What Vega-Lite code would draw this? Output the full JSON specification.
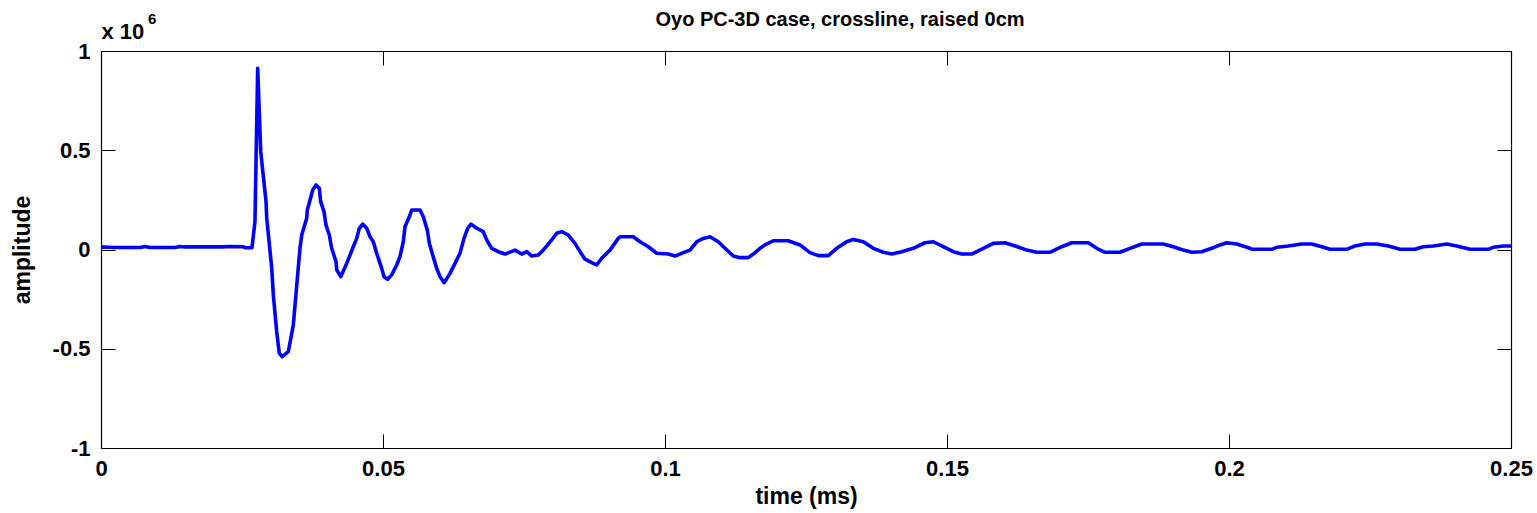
{
  "$schema": "https://vega.github.io/schema/vega-lite/v6.json",
  "width": 1410,
  "height": 397,
  "autosize": {"type": "none"},
  "padding": {"left": 101, "top": 51, "right": 26, "bottom": 65},
  "background": "white",
  "config": {
    "view": {"stroke": null},
    "font": "Liberation Sans",
    "axis": {
      "grid": false,
      "domainColor": "black",
      "domainWidth": 1.2,
      "tickColor": "black",
      "tickWidth": 1,
      "tickSize": -14,
      "labelColor": "black",
      "labelFont": "Liberation Sans",
      "labelFontSize": 22,
      "labelFontWeight": "bold",
      "labelFlush": false,
      "labelOverlap": false,
      "labelBound": false,
      "titleColor": "black",
      "titleFont": "Liberation Sans",
      "titleFontWeight": "bold",
      "titleFontSize": 23
    }
  },
  "title": {
    "text": "Oyo PC-3D case, crossline, raised 0cm",
    "font": "Liberation Sans",
    "fontSize": 20,
    "fontWeight": "bold",
    "color": "black",
    "anchor": "middle",
    "dx": 34,
    "offset": -19
  },
  "data": {
    "values": [
      {"time_ms": 0.0, "amplitude": 13000},
      {"time_ms": 0.00195, "amplitude": 10000},
      {"time_ms": 0.00691, "amplitude": 10000},
      {"time_ms": 0.0078, "amplitude": 15000},
      {"time_ms": 0.00869, "amplitude": 10000},
      {"time_ms": 0.01312, "amplitude": 10000},
      {"time_ms": 0.01401, "amplitude": 15000},
      {"time_ms": 0.01489, "amplitude": 13000},
      {"time_ms": 0.02145, "amplitude": 13000},
      {"time_ms": 0.02287, "amplitude": 15000},
      {"time_ms": 0.02518, "amplitude": 14000},
      {"time_ms": 0.02553, "amplitude": 9000},
      {"time_ms": 0.02677, "amplitude": 9000},
      {"time_ms": 0.0273, "amplitude": 140000},
      {"time_ms": 0.02778, "amplitude": 913000},
      {"time_ms": 0.02832, "amplitude": 493000},
      {"time_ms": 0.02926, "amplitude": 241000},
      {"time_ms": 0.02938, "amplitude": 159000},
      {"time_ms": 0.03027, "amplitude": -93000},
      {"time_ms": 0.03055, "amplitude": -229000},
      {"time_ms": 0.03115, "amplitude": -414000},
      {"time_ms": 0.03161, "amplitude": -523000},
      {"time_ms": 0.03215, "amplitude": -540000},
      {"time_ms": 0.03321, "amplitude": -515000},
      {"time_ms": 0.0341, "amplitude": -380000},
      {"time_ms": 0.0344, "amplitude": -280000},
      {"time_ms": 0.03528, "amplitude": 6000},
      {"time_ms": 0.03559, "amplitude": 73000},
      {"time_ms": 0.03647, "amplitude": 157000},
      {"time_ms": 0.03658, "amplitude": 199000},
      {"time_ms": 0.03754, "amplitude": 300000},
      {"time_ms": 0.03812, "amplitude": 325000},
      {"time_ms": 0.03871, "amplitude": 308000},
      {"time_ms": 0.03895, "amplitude": 241000},
      {"time_ms": 0.03954, "amplitude": 190000},
      {"time_ms": 0.03989, "amplitude": 123000},
      {"time_ms": 0.04048, "amplitude": 73000},
      {"time_ms": 0.0409, "amplitude": 6000},
      {"time_ms": 0.04167, "amplitude": -61000},
      {"time_ms": 0.04179, "amplitude": -103000},
      {"time_ms": 0.0425, "amplitude": -137000},
      {"time_ms": 0.04356, "amplitude": -70000},
      {"time_ms": 0.04415, "amplitude": -28000},
      {"time_ms": 0.04473, "amplitude": 14000},
      {"time_ms": 0.04534, "amplitude": 56000},
      {"time_ms": 0.0458, "amplitude": 107000},
      {"time_ms": 0.0464, "amplitude": 128000},
      {"time_ms": 0.04711, "amplitude": 107000},
      {"time_ms": 0.0477, "amplitude": 64000},
      {"time_ms": 0.04828, "amplitude": 39000},
      {"time_ms": 0.04888, "amplitude": -19000},
      {"time_ms": 0.04977, "amplitude": -95000},
      {"time_ms": 0.05018, "amplitude": -137000},
      {"time_ms": 0.05083, "amplitude": -150000},
      {"time_ms": 0.05154, "amplitude": -128000},
      {"time_ms": 0.05243, "amplitude": -78000},
      {"time_ms": 0.05301, "amplitude": -36000},
      {"time_ms": 0.0536, "amplitude": 39000},
      {"time_ms": 0.0539, "amplitude": 115000},
      {"time_ms": 0.05479, "amplitude": 174000},
      {"time_ms": 0.05509, "amplitude": 199000},
      {"time_ms": 0.05567, "amplitude": 199000},
      {"time_ms": 0.05656, "amplitude": 199000},
      {"time_ms": 0.05715, "amplitude": 165000},
      {"time_ms": 0.05785, "amplitude": 98000},
      {"time_ms": 0.05821, "amplitude": 31000},
      {"time_ms": 0.05881, "amplitude": -28000},
      {"time_ms": 0.05952, "amplitude": -95000},
      {"time_ms": 0.06011, "amplitude": -137000},
      {"time_ms": 0.06087, "amplitude": -167000},
      {"time_ms": 0.06188, "amplitude": -120000},
      {"time_ms": 0.06277, "amplitude": -70000},
      {"time_ms": 0.06365, "amplitude": -19000},
      {"time_ms": 0.06436, "amplitude": 56000},
      {"time_ms": 0.06502, "amplitude": 107000},
      {"time_ms": 0.0656, "amplitude": 128000},
      {"time_ms": 0.06661, "amplitude": 107000},
      {"time_ms": 0.06778, "amplitude": 90000},
      {"time_ms": 0.06839, "amplitude": 48000},
      {"time_ms": 0.06927, "amplitude": 6000},
      {"time_ms": 0.07044, "amplitude": -11000},
      {"time_ms": 0.07163, "amplitude": -23000},
      {"time_ms": 0.0734, "amplitude": -3000},
      {"time_ms": 0.07459, "amplitude": -23000},
      {"time_ms": 0.07548, "amplitude": -11000},
      {"time_ms": 0.07637, "amplitude": -33000},
      {"time_ms": 0.07754, "amplitude": -28000},
      {"time_ms": 0.07842, "amplitude": -3000},
      {"time_ms": 0.07991, "amplitude": 48000},
      {"time_ms": 0.0808, "amplitude": 82000},
      {"time_ms": 0.08168, "amplitude": 90000},
      {"time_ms": 0.08285, "amplitude": 73000},
      {"time_ms": 0.08404, "amplitude": 31000},
      {"time_ms": 0.08493, "amplitude": -11000},
      {"time_ms": 0.08582, "amplitude": -49000},
      {"time_ms": 0.087, "amplitude": -66000},
      {"time_ms": 0.08789, "amplitude": -78000},
      {"time_ms": 0.08878, "amplitude": -44000},
      {"time_ms": 0.09025, "amplitude": -3000},
      {"time_ms": 0.09172, "amplitude": 56000},
      {"time_ms": 0.09202, "amplitude": 64000},
      {"time_ms": 0.09438, "amplitude": 64000},
      {"time_ms": 0.09557, "amplitude": 39000},
      {"time_ms": 0.09704, "amplitude": 14000},
      {"time_ms": 0.09853, "amplitude": -19000},
      {"time_ms": 0.10059, "amplitude": -23000},
      {"time_ms": 0.10177, "amplitude": -33000},
      {"time_ms": 0.10324, "amplitude": -16000},
      {"time_ms": 0.10443, "amplitude": -3000},
      {"time_ms": 0.10562, "amplitude": 39000},
      {"time_ms": 0.10679, "amplitude": 56000},
      {"time_ms": 0.10798, "amplitude": 64000},
      {"time_ms": 0.10945, "amplitude": 39000},
      {"time_ms": 0.11064, "amplitude": 6000},
      {"time_ms": 0.11211, "amplitude": -33000},
      {"time_ms": 0.1133, "amplitude": -41000},
      {"time_ms": 0.11477, "amplitude": -41000},
      {"time_ms": 0.11566, "amplitude": -23000},
      {"time_ms": 0.11684, "amplitude": 6000},
      {"time_ms": 0.11773, "amplitude": 23000},
      {"time_ms": 0.1192, "amplitude": 44000},
      {"time_ms": 0.12186, "amplitude": 44000},
      {"time_ms": 0.12394, "amplitude": 23000},
      {"time_ms": 0.12571, "amplitude": -16000},
      {"time_ms": 0.12718, "amplitude": -31000},
      {"time_ms": 0.12895, "amplitude": -31000},
      {"time_ms": 0.13044, "amplitude": 6000},
      {"time_ms": 0.13222, "amplitude": 39000},
      {"time_ms": 0.13339, "amplitude": 51000},
      {"time_ms": 0.13516, "amplitude": 39000},
      {"time_ms": 0.13693, "amplitude": 6000},
      {"time_ms": 0.13871, "amplitude": -14000},
      {"time_ms": 0.1402, "amplitude": -23000},
      {"time_ms": 0.14197, "amplitude": -11000},
      {"time_ms": 0.14402, "amplitude": 6000},
      {"time_ms": 0.1461, "amplitude": 34000},
      {"time_ms": 0.14757, "amplitude": 39000},
      {"time_ms": 0.14934, "amplitude": 14000},
      {"time_ms": 0.15112, "amplitude": -11000},
      {"time_ms": 0.15261, "amplitude": -23000},
      {"time_ms": 0.15438, "amplitude": -23000},
      {"time_ms": 0.15644, "amplitude": 6000},
      {"time_ms": 0.15821, "amplitude": 31000},
      {"time_ms": 0.16028, "amplitude": 34000},
      {"time_ms": 0.16206, "amplitude": 18000},
      {"time_ms": 0.16413, "amplitude": -3000},
      {"time_ms": 0.1659, "amplitude": -14000},
      {"time_ms": 0.16826, "amplitude": -14000},
      {"time_ms": 0.17034, "amplitude": 14000},
      {"time_ms": 0.17211, "amplitude": 34000},
      {"time_ms": 0.17505, "amplitude": 34000},
      {"time_ms": 0.17654, "amplitude": 6000},
      {"time_ms": 0.17801, "amplitude": -14000},
      {"time_ms": 0.18067, "amplitude": -14000},
      {"time_ms": 0.18245, "amplitude": 6000},
      {"time_ms": 0.18452, "amplitude": 28000},
      {"time_ms": 0.18835, "amplitude": 28000},
      {"time_ms": 0.19012, "amplitude": 14000},
      {"time_ms": 0.1919, "amplitude": -3000},
      {"time_ms": 0.19339, "amplitude": -14000},
      {"time_ms": 0.19516, "amplitude": -11000},
      {"time_ms": 0.19693, "amplitude": 6000},
      {"time_ms": 0.1984, "amplitude": 23000},
      {"time_ms": 0.19959, "amplitude": 34000},
      {"time_ms": 0.20137, "amplitude": 28000},
      {"time_ms": 0.20372, "amplitude": 6000},
      {"time_ms": 0.20402, "amplitude": 1000},
      {"time_ms": 0.20757, "amplitude": 1000},
      {"time_ms": 0.20846, "amplitude": 11000},
      {"time_ms": 0.21052, "amplitude": 18000},
      {"time_ms": 0.21289, "amplitude": 28000},
      {"time_ms": 0.21466, "amplitude": 28000},
      {"time_ms": 0.21644, "amplitude": 14000},
      {"time_ms": 0.21791, "amplitude": 1000},
      {"time_ms": 0.22087, "amplitude": 1000},
      {"time_ms": 0.22234, "amplitude": 18000},
      {"time_ms": 0.22411, "amplitude": 28000},
      {"time_ms": 0.22619, "amplitude": 28000},
      {"time_ms": 0.22824, "amplitude": 18000},
      {"time_ms": 0.23032, "amplitude": 1000},
      {"time_ms": 0.23298, "amplitude": 1000},
      {"time_ms": 0.23445, "amplitude": 14000},
      {"time_ms": 0.23622, "amplitude": 18000},
      {"time_ms": 0.2386, "amplitude": 28000},
      {"time_ms": 0.24037, "amplitude": 18000},
      {"time_ms": 0.24273, "amplitude": 1000},
      {"time_ms": 0.24598, "amplitude": 1000},
      {"time_ms": 0.24686, "amplitude": 11000},
      {"time_ms": 0.24863, "amplitude": 18000},
      {"time_ms": 0.25, "amplitude": 18000}
    ]
  },
  "layer": [
    {
      "mark": {"type": "line", "color": "#0000FF", "strokeWidth": 3.6, "strokeJoin": "round", "strokeCap": "round", "clip": true},
      "encoding": {
        "x": {
          "field": "time_ms",
          "type": "quantitative",
          "scale": {"domain": [0, 0.25], "nice": false, "zero": false},
          "axis": {
            "orient": "bottom",
            "values": [0, 0.05, 0.1, 0.15, 0.2, 0.25],
            "labelExpr": "'' + datum.value",
            "labelPadding": 24,
            "title": "time (ms)",
            "titlePadding": 6
          }
        },
        "y": {
          "field": "amplitude",
          "type": "quantitative",
          "scale": {"domain": [-1000000, 1000000], "nice": false, "zero": false},
          "axis": {
            "orient": "left",
            "values": [-1000000, -500000, 0, 500000, 1000000],
            "labelExpr": "'' + (datum.value / 1000000)",
            "labelPadding": 25,
            "title": "amplitude",
            "titlePadding": 18
          }
        }
      }
    },
    {
      "mark": {"type": "line", "strokeOpacity": 0},
      "encoding": {
        "x": {
          "field": "time_ms",
          "type": "quantitative",
          "axis": {
            "orient": "top",
            "values": [0, 0.05, 0.1, 0.15, 0.2, 0.25],
            "labels": false,
            "title": "x 10",
            "titleFontSize": 22,
            "titleAnchor": "start",
            "titleAlign": "left",
            "titleBaseline": "alphabetic",
            "titleAngle": 0,
            "titleX": 0,
            "titleY": -13
          }
        },
        "y": {
          "field": "amplitude",
          "type": "quantitative",
          "axis": {
            "orient": "right",
            "values": [-1000000, -500000, 0, 500000, 1000000],
            "labels": false,
            "title": "6",
            "titleFontSize": 15,
            "titleAngle": 0,
            "titleAlign": "left",
            "titleBaseline": "alphabetic",
            "titleX": -1363.5,
            "titleY": -27.7
          }
        }
      }
    }
  ],
  "resolve": {"axis": {"x": "independent", "y": "independent"}}
}
